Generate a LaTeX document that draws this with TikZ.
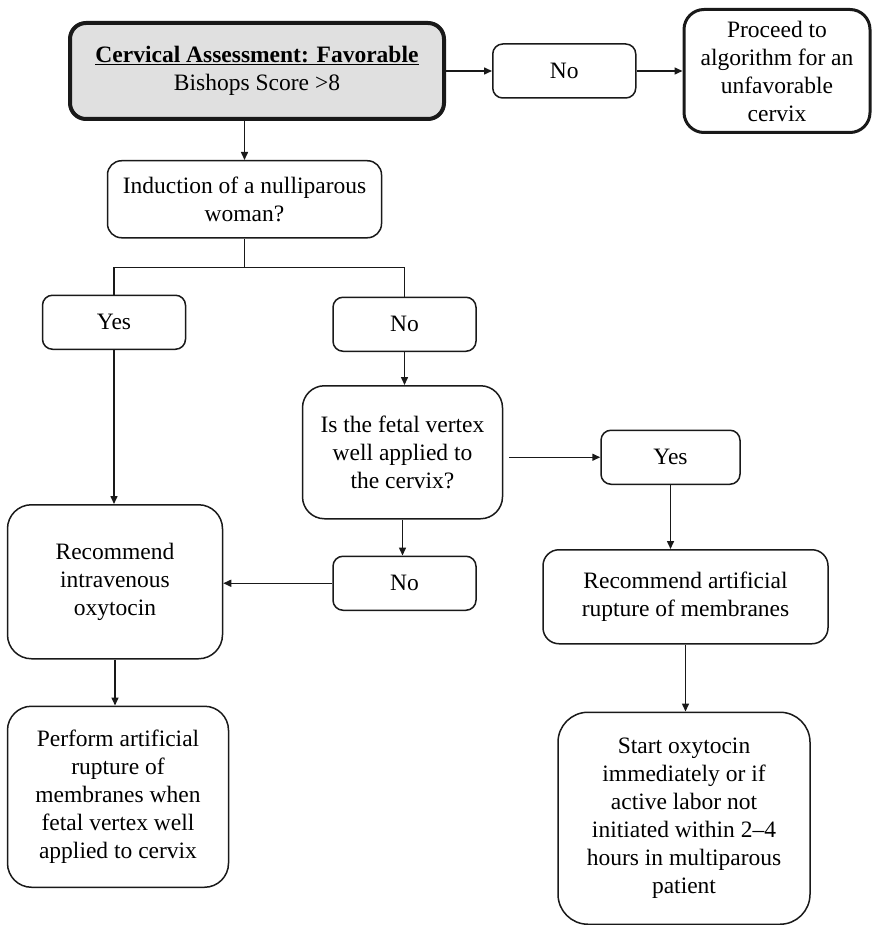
\documentclass[tikz,border=0pt]{standalone}
\usepackage{fontspec}
\setmainfont{Liberation Serif}
\usepackage{xcolor}
\usepackage{tikz}
\usetikzlibrary{arrows.meta, positioning}
\definecolor{ink}{RGB}{25, 25, 25}
\definecolor{headfill}{RGB}{224, 224, 224}
\tikzset{
  font=\fontsize{23.5}{28}\selectfont,
  baseblock/.style={
    rectangle, draw=ink, line width=1.5pt,
    align=center, inner sep=2pt
  },
  answerblock/.style={baseblock, rounded corners=10pt, minimum width=143pt, minimum height=54pt},
  questionblock/.style={baseblock, rounded corners=18pt},
  actionblock/.style={baseblock, rounded corners=24pt},
  headblock/.style={
    baseblock, rounded corners=16pt, line width=4pt, fill=headfill,
    minimum width=374pt, minimum height=96pt
  },
  flowline/.style={
    draw=ink, -{Triangle[length=8pt, width=7pt]}, line width=1.5pt
  },
  joinline/.style={draw=ink, line width=1.5pt}
}

\begin{document}
\begin{tikzpicture}
  \useasboundingbox (0,0) rectangle (880pt,-925pt);

  % Top row: assessment and the unfavorable branch
  \node[headblock] (assess) at (257pt,-71pt) {
    \underline{\textbf{Cervical Assessment: Favorable}}\\
    Bishops Score >8
  };
  \node[answerblock, right=46pt of assess] (noA) {No};
  \node[actionblock, right=46pt of noA, minimum width=186pt, minimum height=123pt,
        line width=3pt, rounded corners=20pt] (proceed) {
    Proceed to\\algorithm for an\\unfavorable\\cervix
  };

  % Nulliparous question
  \node[questionblock, below=39pt of assess, xshift=-12.5pt, minimum width=274pt,
        minimum height=77pt, rounded corners=14pt] (induct) {
    Induction of a nulliparous\\woman?
  };
  \coordinate[below=29pt of induct.south] (split);
  \node[answerblock, below=56pt of induct, xshift=-130.5pt] (yesA) {Yes};
  \node[answerblock, below=58pt of induct, xshift=160pt] (noB) {No};

  % Fetal vertex question
  \node[questionblock, below=33pt of noB, xshift=-2pt, minimum width=200pt,
        minimum height=133pt, rounded corners=22pt] (fetal) {
    Is the fetal vertex\\well applied to\\the cervix?
  };
  \node[answerblock, right=97pt of fetal, yshift=-5pt, minimum width=139pt] (yesB) {Yes};
  \node[answerblock, below=36pt of fetal, xshift=2pt] (noC) {No};

  % Actions
  \node[actionblock, left=109pt of noC, yshift=1.5pt, minimum width=215pt,
        minimum height=154pt] (iv) {
    Recommend\\intravenous\\oxytocin
  };
  \node[actionblock, below=46pt of iv, xshift=3pt, minimum width=221pt,
        minimum height=181pt] (perform) {
    Perform artificial\\rupture of\\membranes when\\fetal vertex well\\applied to cervix
  };
  \node[actionblock, below=64pt of yesB, xshift=15pt, minimum width=285pt,
        minimum height=94pt, rounded corners=16pt] (recart) {
    Recommend artificial\\rupture of membranes
  };
  \node[actionblock, below=67pt of recart, xshift=-1.5pt, minimum width=252pt,
        minimum height=212pt, rounded corners=30pt] (start) {
    Start oxytocin\\immediately or if\\active labor not\\initiated within 2--4\\hours in multiparous\\patient
  };

  % Connecting Flows
  \draw[flowline] (assess) -- (noA);
  \draw[flowline] (noA) -- (proceed);
  \draw[flowline] (induct.north |- assess.south) -- (induct.north);
  \draw[joinline] (induct) -- (split);
  \draw[joinline] (yesA.north) |- (split) -| (noB.north);
  \draw[flowline] (yesA.south) -- (yesA.south |- iv.north);
  \draw[flowline] (noB.south) -- (noB.south |- fetal.north);
  \draw[flowline, shorten <=6pt] (fetal.east |- yesB) -- (yesB);
  \draw[flowline] (fetal.south) -- (fetal.south |- noC.north);
  \draw[flowline] (noC.west) -- (noC.west -| iv.east);
  \draw[flowline] (iv.south) -- (iv.south |- perform.north);
  \draw[flowline] (yesB.south) -- (yesB.south |- recart.north);
  \draw[flowline] (recart.south) -- (recart.south |- start.north);

\end{tikzpicture}
\end{document}
